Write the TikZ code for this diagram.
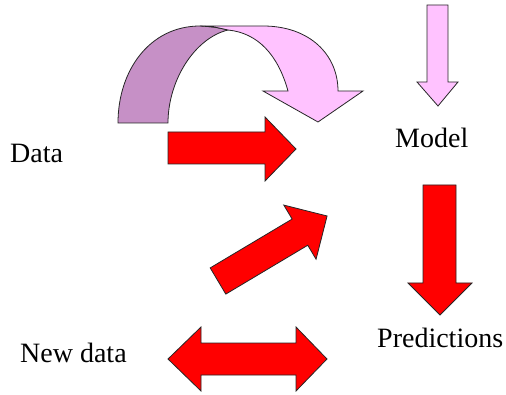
\documentclass[tikz,border=0pt]{standalone}
\usepackage{fontspec}
\setmainfont{Liberation Serif}
\definecolor{arrred}{RGB}{255,0,0}
\definecolor{arrpink}{RGB}{255,194,255}
\definecolor{arrplum}{RGB}{198,144,198}
\begin{document}
\begin{tikzpicture}[x=1pt,y=-1pt,
  blockarrow/.style={draw=black!85,line width=0.8pt,line join=miter},
  redarrow/.style={blockarrow,fill=arrred},
  pinkarrow/.style={blockarrow,fill=arrpink},
  plumarrow/.style={blockarrow,fill=arrplum},
  label/.style={font=\fontsize{28}{30}\selectfont,anchor=base west,inner sep=0pt}]
\useasboundingbox (0,0) rectangle (506,395);
% labels
\node[label] (data) at (10,163) {Data};
\node[label] (model) at (395,148) {Model};
\node[label] (newdata) at (20,362) {New data};
\node[label] (pred) at (377,348) {Predictions};
% curved arrow: back part
\draw[plumarrow] (118,123) .. controls (118,70) and (150,26) .. (200,26)
  .. controls (215,27) .. (228,30)
  .. controls (195,38) and (168,80) .. (168,123) -- cycle;
% curved arrow: front part
\draw[pinkarrow] (200,26) -- (263,26) .. controls (310,26) and (338,55) .. (338,91)
  -- (363,91) -- (318,122) -- (263,91) -- (288,91)
  .. controls (278,55) and (258,33) .. (228,30)
  .. controls (215,27) .. (200,26) -- cycle;
% small pink down arrow
\draw[pinkarrow] (427,5) -- (448,5) -- (448,82) -- (458,82) -- (438,106) -- (417,82) -- (427,82) -- cycle;
% right arrow
\draw[redarrow] (168,132) -- (265,132) -- (265,117) -- (296,149) -- (265,181) -- (265,164) -- (168,164) -- cycle;
% diagonal arrow
\begin{scope}[shift={(218,281)},rotate=30.8]
\draw[redarrow] (0,-15.25) -- (95.4,-15.25) -- (95.4,-31.5) -- (127,0) -- (95.4,31.5) -- (95.4,15.25) -- (0,15.25) -- cycle;
\end{scope}
% down red arrow
\draw[redarrow] (423,185) -- (456,185) -- (456,283) -- (472,283) -- (440,315) -- (408,283) -- (423,283) -- cycle;
% double arrow
\draw[redarrow] (168,359) -- (201,327) -- (201,343) -- (296,343) -- (296,327) -- (327,359) -- (296,391) -- (296,375) -- (201,375) -- (201,391) -- cycle;
\end{tikzpicture}
\end{document}
